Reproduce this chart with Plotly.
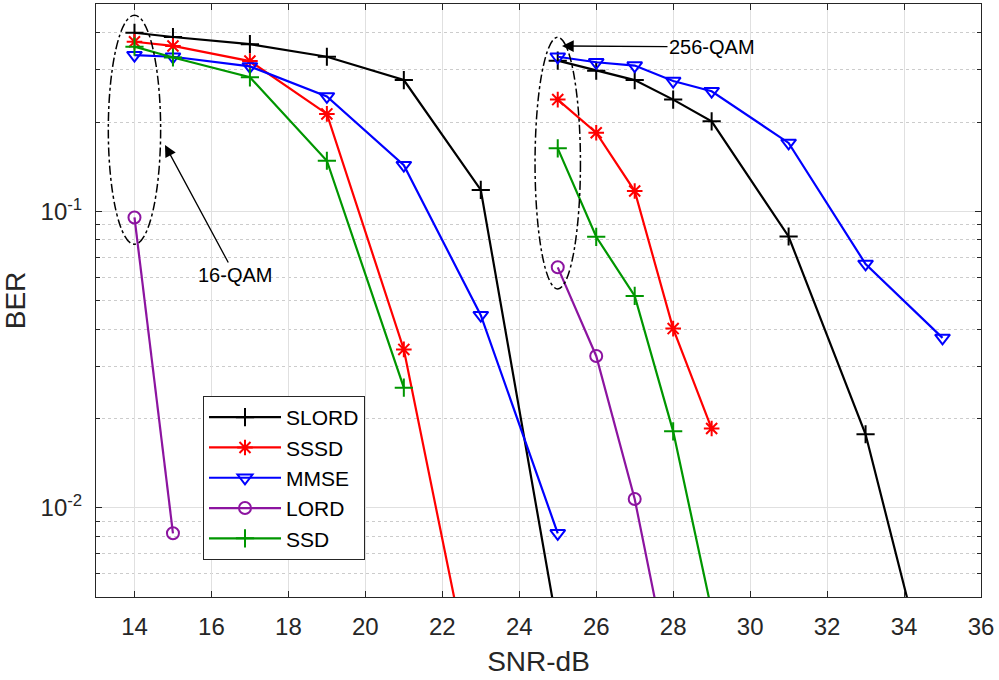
import plotly.graph_objects as go

# ---------------- data ----------------
# 16-QAM curves
x16_slord = [14, 15, 17, 19, 21, 23, 25]
y16_slord = [0.400, 0.387, 0.366, 0.332, 0.277, 0.118, 0.0039]
x16_sssd = [14, 15, 17, 19, 21, 23]
y16_sssd = [0.373, 0.361, 0.321, 0.213, 0.0342, 0.0018]
x16_mmse = [14, 15, 17, 19, 21, 23, 25]
y16_mmse = [0.336, 0.332, 0.308, 0.244, 0.143, 0.0446, 0.0082]
x16_lord = [14, 15]
y16_lord = [0.0953, 0.0082]
x16_ssd = [14, 15, 17, 19, 21]
y16_ssd = [0.359, 0.330, 0.283, 0.148, 0.0254]

# 256-QAM curves
x256_slord = [25, 26, 27, 28, 29, 31, 33, 35]
y256_slord = [0.322, 0.298, 0.277, 0.238, 0.201, 0.0822, 0.0177, 0.00168]
x256_sssd = [25, 26, 27, 28, 29]
y256_sssd = [0.238, 0.184, 0.117, 0.0402, 0.0185]
x256_mmse = [25, 26, 27, 28, 29, 31, 33, 35]
y256_mmse = [0.332, 0.318, 0.310, 0.275, 0.254, 0.170, 0.0664, 0.0374]
x256_lord = [25, 26, 27, 28]
y256_lord = [0.0647, 0.0325, 0.0107, 0.00243]
x256_ssd = [25, 26, 27, 28, 29]
y256_ssd = [0.163, 0.082, 0.0518, 0.0181, 0.0045]

names = ["SLORD", "SSSD", "MMSE", "LORD", "SSD"]
colors = ["#000000", "#FF0000", "#0000FF", "#8C14A0", "#009600"]
symbols = ["cross-thin-open", "asterisk-open", "triangle-down-open", "circle-open", "cross-thin-open"]
sizes = [13, 13, 13, 12, 13]

x_ticks = list(range(14, 37, 2))
y_major = [0.01, 0.1]
y_major_text = ["10<sup>-2</sup>", "10<sup>-1</sup>"]
y_minor = [0.006, 0.007, 0.008, 0.009, 0.02, 0.03, 0.04, 0.05, 0.06, 0.07, 0.08, 0.09,
           0.2, 0.3, 0.4, 0.5]

series16 = [(x16_slord, y16_slord), (x16_sssd, y16_sssd), (x16_mmse, y16_mmse),
            (x16_lord, y16_lord), (x16_ssd, y16_ssd)]
series256 = [(x256_slord, y256_slord), (x256_sssd, y256_sssd), (x256_mmse, y256_mmse),
             (x256_lord, y256_lord), (x256_ssd, y256_ssd)]

FONT = "Liberation Sans, Arial, sans-serif"
L, R, T, B = 96, 18, 4, 83
PW, PH = 999 - L - R, 680 - T - B


def px(xp):
    return (xp - L) / PW


def py(yp):
    return (680 - B - yp) / PH


fig = go.Figure()
for i, name in enumerate(names):
    for j, (xs, ys) in enumerate([series16[i], series256[i]]):
        fig.add_trace(go.Scatter(
            x=xs, y=ys, mode="lines+markers", name=name,
            legendgroup=name, showlegend=(j == 0),
            line=dict(color=colors[i], width=2.2),
            marker=dict(symbol=symbols[i], size=sizes[i], color=colors[i],
                        line=dict(color=colors[i], width=2)),
        ))

# ellipses (dash-dot)
fig.add_shape(type="circle", xref="x", yref="y", x0=13.32, x1=14.68, y0=0.0774, y1=0.458,
              line=dict(color="black", width=1.5, dash="dashdot"))
fig.add_shape(type="circle", xref="x", yref="y", x0=24.41, x1=25.59, y0=0.0547, y1=0.386,
              line=dict(color="black", width=1.5, dash="dashdot"))

# annotations with arrows
fig.add_annotation(xref="paper", yref="paper", x=px(165), y=py(145),
                   axref="pixel", ayref="pixel", ax=70, ay=130,
                   text="16-QAM", showarrow=True, arrowhead=2, arrowsize=1.8,
                   arrowwidth=1.3, arrowcolor="black", standoff=0,
                   font=dict(family=FONT, size=20, color="black"))
fig.add_annotation(xref="paper", yref="paper", x=px(562), y=py(46),
                   axref="pixel", ayref="pixel", ax=150, ay=1,
                   text="256-QAM", showarrow=True, arrowhead=2, arrowsize=1.8,
                   arrowwidth=1.3, arrowcolor="black", standoff=0,
                   font=dict(family=FONT, size=20, color="black"))

fig.update_layout(
    width=999, height=680,
    margin=dict(l=L, r=R, t=T, b=B),
    paper_bgcolor="white", plot_bgcolor="white",
    font=dict(family=FONT, size=24, color="#262626"),
    showlegend=True,
    legend=dict(x=px(203), y=py(396), xanchor="left", yanchor="top",
                bgcolor="white", bordercolor="#262626", borderwidth=1,
                font=dict(family=FONT, size=21, color="black"),
                itemwidth=72, tracegroupgap=0),
    xaxis=dict(
        range=[13, 36], tickvals=x_ticks, ticks="inside", ticklen=6,
        tickcolor="#262626", showline=True, linecolor="#262626", linewidth=1,
        mirror="allticks", showgrid=True, gridcolor="#E0E0E0", gridwidth=1,
        zeroline=False, automargin=False, ticklabelstandoff=8,
        tickfont=dict(size=24, color="#262626"),
        title=dict(text="SNR-dB", font=dict(size=28, color="#262626"), standoff=12),
    ),
    yaxis=dict(
        type="log", range=[-2.301, -0.301],
        tickmode="array", tickvals=y_major, ticktext=y_major_text,
        ticks="inside", ticklen=6, tickcolor="#262626",
        showline=True, linecolor="#262626", linewidth=1, mirror="allticks",
        showgrid=True, gridcolor="#E0E0E0", gridwidth=1, zeroline=False,
        automargin=False, ticklabelstandoff=8,
        tickfont=dict(size=24, color="#262626"),
        title=dict(text="BER", font=dict(size=28, color="#262626"), standoff=10),
        minor=dict(tickmode="array", tickvals=y_minor, ticks="inside", ticklen=4,
                   tickcolor="#262626", showgrid=True, gridcolor="#CCCCCC",
                   griddash="dot", gridwidth=1),
    ),
)

fig.write_html("out.html", config={"displayModeBar": False},
               post_script="document.body.style.margin='0';")
